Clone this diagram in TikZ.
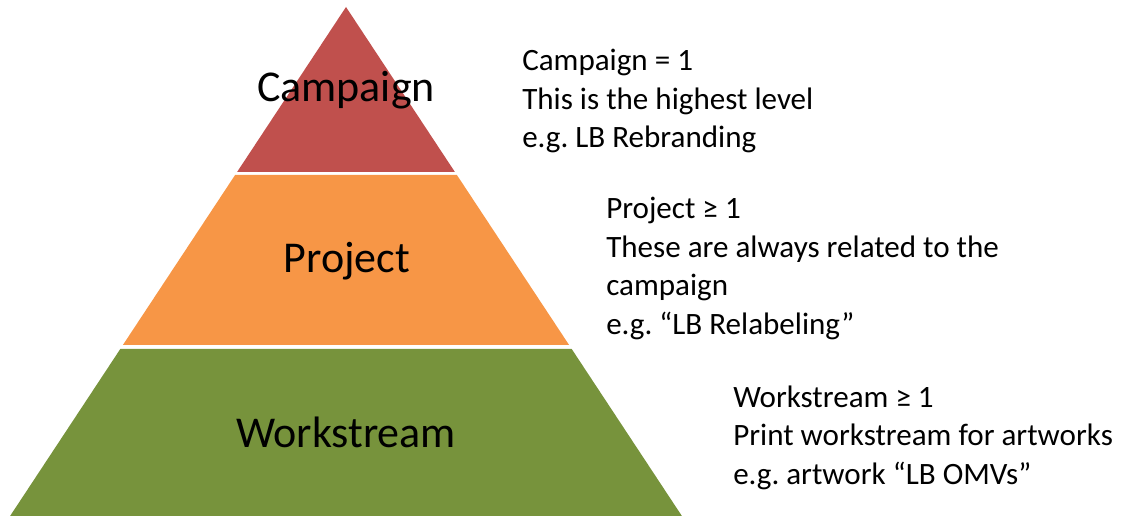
\documentclass[tikz,border=0pt]{standalone}
\usepackage{fontspec}
\setmainfont{Carlito}
\frenchspacing
\usepackage{tikz}
\usetikzlibrary{positioning}
\definecolor{LevelRed}{HTML}{C0504D}
\definecolor{LevelOrange}{HTML}{F79646}
\definecolor{LevelGreen}{HTML}{77933C}
\tikzset{
    % Labels inside the pyramid
    levellabel/.style={
        inner sep=0pt,
        text=black,
        font=\fontsize{33}{40}\selectfont
    },
    % Notes to the right of each level
    notetext/.style={
        anchor=west,
        inner sep=0pt,
        align=left,
        text=black,
        font=\fontsize{23.3}{28.9}\selectfont
    }
}

\begin{document}
\begin{tikzpicture}[x=0.75pt, y=-0.75pt]
    \useasboundingbox (0,0) rectangle (1122,516);

    % Pyramid bands
    \fill[LevelRed] (346,7) -- (454.9,172) -- (237.1,172) -- cycle;
    \fill[LevelOrange] (235.1,175) -- (456.9,175) -- (569.1,345) -- (122.9,345) -- cycle;
    \fill[LevelGreen] (120.3,349) -- (571.7,349) -- (681.9,516) -- (10.1,516) -- cycle;

    % Level names
    \node[levellabel] (campaign) at (346,90) {Campaign};
    \node[levellabel] (project) at (347,261.5) {Project};
    \node[levellabel] (workstream) at (346,432) {Workstream};

    % Notes
    \node[notetext] (campaignnote) at (522,101) {Campaign = 1\\This is the highest level\\e.g. LB Rebranding};
    \node[notetext] (projectnote) at (606,268.5) {Project ≥ 1\\These are always related to the\\campaign\\e.g. “LB Relabeling”};
    \node[notetext] (workstreamnote) at (733,437.5) {Workstream ≥ 1\\Print workstream for artworks\\e.g. artwork “LB OMVs”};
\end{tikzpicture}
\end{document}
